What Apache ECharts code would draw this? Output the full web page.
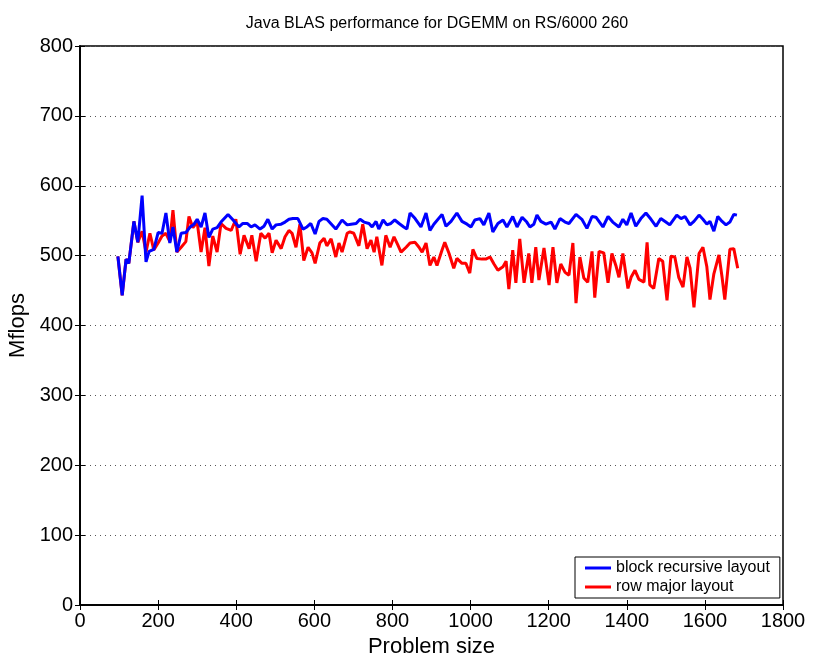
<!DOCTYPE html>
<html><head><meta charset="utf-8">
<script src="https://cdn.jsdelivr.net/npm/echarts@6/dist/echarts.min.js"></script>
<style>html,body{margin:0;padding:0;background:#fff}#c{width:817px;height:657px}</style>
</head><body><div id="c"></div>
<script>
const titleText = "Java BLAS performance for DGEMM on RS/6000 260";
const xName = "Problem size";
const yName = "Mflops";
const seriesNames = ["block recursive layout", "row major layout"];

const blueX = [97,108,118,125,138,148,159,169,177,189,200,210,220,230,238,248,259,271,282,292,300,310,320,330,340,351,361,
379,392,407,417,428,438,448,461,471,481,492,502,515,525,535,545,558,571,581,591,602,612,622,632,
655,671,684,694,707,717,727,740,748,758,765,776,786,796,806,817,829,837,845,858,873,886,896,906,
927,937,950,965,978,991,1001,1011,1024,1034,1047,1057,1070,1083,1093,1108,1119,1132,1144,1152,1162,1170,
1180,1193,1206,1216,1229,1242,1252,1270,1285,1298,1311,1321,1339,1352,1364,1380,1390,1400,1411,1423,
1436,1449,1462,1475,1487,1500,1510,1528,1539,1549,1562,1572,1585,1595,1605,1613,1623,1633,1644,1654,1664,1674,1682];
const blueY = [499,443,495,489,549,519,586,491,506,509,533,532,561,518,541,505,532,533,541,545,552,541,561,526,538,540,548,
559,551,541,546,546,541,544,538,542,552,538,544,545,548,552,553,553,538,541,546,531,549,553,552,
538,551,544,545,546,552,548,546,541,549,538,551,544,546,551,546,541,538,561,553,541,561,536,545,
559,542,549,561,549,545,541,551,553,544,561,534,546,551,541,556,541,555,548,541,545,558,
549,545,548,538,553,548,546,559,552,539,556,555,541,556,548,541,552,544,561,542,
553,561,552,542,553,548,544,558,553,556,544,549,558,552,545,549,535,556,549,544,548,559,558];

const redX = [97,108,118,125,138,148,159,169,179,189,200,210,220,230,238,248,259,271,279,289,300,310,320,330,340,351,
361,374,387,399,410,420,433,440,451,463,474,484,492,502,515,525,535,543,553,563,573,584,594,602,614,625,632,
643,655,663,671,684,691,701,714,724,735,745,753,760,773,783,794,804,814,822,835,845,858,868,876,886,896,906,
914,927,934,945,957,965,978,988,998,1006,1016,1029,1039,1050,1060,1070,1083,1091,1098,1108,1116,1126,1137,1149,1157,1167,1175,
1188,1201,1211,1221,1231,1242,1252,1262,1270,1280,1290,1300,1311,1318,1329,1341,1352,1362,1372,1380,1390,1403,1411,1421,1431,
1444,1452,1459,1469,1482,1492,1503,1513,1523,1533,1544,1554,1562,1572,1585,1595,1605,1613,1623,1636,1644,1651,1664,1674,1684];
const redY = [499,443,495,489,549,519,535,505,532,508,518,528,532,520,565,505,512,520,556,540,548,505,540,485,528,505,
546,539,536,552,502,529,510,529,492,532,525,532,504,522,510,527,536,532,512,545,493,512,504,489,518,525,514,
524,498,518,505,532,534,532,514,545,510,522,505,527,486,529,512,527,515,505,512,518,519,512,505,518,486,498,
486,508,519,503,482,496,489,489,475,509,496,495,495,498,488,479,484,492,452,508,461,524,461,503,461,512,465,
511,458,512,461,488,476,472,518,432,498,468,462,506,440,506,504,461,503,486,469,503,453,469,479,466,
462,519,458,453,496,492,436,499,498,469,455,498,482,426,503,512,484,437,474,501,469,437,509,510,482];

const xMin = 0, xMax = 1800, xStep = 200;
const yMin = 0, yMax = 800, yStep = 100;

const zip = (a, b) => a.map((v, i) => [v, b[i]]);
const font = "'Liberation Sans', Arial, sans-serif";

const chart = echarts.init(document.getElementById('c'), null, {renderer: 'canvas'});
const tickStyle = {show: true, inside: true, length: 5, lineStyle: {color: '#000', width: 1}};
const lineStyleAxis = {color: '#000', width: 1.5};
chart.setOption({
  animation: false,
  backgroundColor: '#fff',
  title: {text: titleText, left: 432, textAlign: 'center', top: 11,
    textStyle: {fontFamily: font, fontSize: 16, fontWeight: 'normal', color: '#000'}},
  grid: {left: 80, right: 34, top: 46, bottom: 52, containLabel: false, outerBoundsMode: 'none',
    show: true, borderColor: '#000', borderWidth: 1.5, backgroundColor: '#fff'},
  legend: {
    data: seriesNames, orient: 'vertical', left: 575, top: 557,
    padding: [3, 10, 3, 10], itemGap: 3, itemWidth: 26, itemHeight: 3, icon: 'rect',
    backgroundColor: '#fff', borderColor: '#000', borderWidth: 1, borderRadius: 0,
    textStyle: {fontFamily: font, fontSize: 16, color: '#000'}
  },
  xAxis: [{
    type: 'value', min: xMin, max: xMax, interval: xStep,
    name: xName, nameLocation: 'middle', nameGap: 29,
    nameTextStyle: {fontFamily: font, fontSize: 22, color: '#000'},
    axisLine: {show: true, lineStyle: lineStyleAxis},
    axisTick: tickStyle,
    axisLabel: {fontFamily: font, fontSize: 20, color: '#000', margin: 6, formatter: v => String(v)},
    splitLine: {show: false}
  }, {
    type: 'value', min: xMin, max: xMax, interval: xStep, position: 'top',
    axisLine: {show: true, lineStyle: lineStyleAxis},
    axisTick: tickStyle, axisLabel: {show: false}, splitLine: {show: false}
  }],
  yAxis: [{
    type: 'value', min: yMin, max: yMax, interval: yStep,
    name: yName, nameLocation: 'middle', nameGap: 47, nameRotate: 90,
    nameTextStyle: {fontFamily: font, fontSize: 22, color: '#000'},
    axisLine: {show: true, lineStyle: lineStyleAxis},
    axisTick: tickStyle,
    axisLabel: {fontFamily: font, fontSize: 20, color: '#000', margin: 7, formatter: v => String(v)},
    splitLine: {show: true, lineStyle: {color: '#555', type: [1, 4], width: 1}}
  }, {
    type: 'value', min: yMin, max: yMax, interval: yStep, position: 'right',
    axisLine: {show: true, lineStyle: lineStyleAxis},
    axisTick: tickStyle, axisLabel: {show: false}, splitLine: {show: false}
  }],
  series: [
    {name: seriesNames[0], type: 'line', data: zip(blueX, blueY), showSymbol: false, symbol: 'none',
     z: 4, lineStyle: {color: '#0000ff', width: 3}, itemStyle: {color: '#0000ff'}},
    {name: seriesNames[1], type: 'line', data: zip(redX, redY), showSymbol: false, symbol: 'none',
     z: 3, lineStyle: {color: '#ff0000', width: 3}, itemStyle: {color: '#ff0000'}}
  ]
});
</script></body></html>
